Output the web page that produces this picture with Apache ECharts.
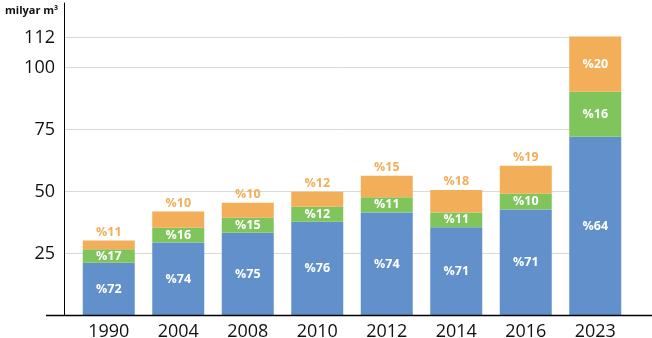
<!DOCTYPE html>
<html>
<head>
<meta charset="utf-8">
<script src="https://cdn.jsdelivr.net/npm/echarts@6/dist/echarts.min.js"></script>
<style>html,body{margin:0;padding:0;background:#fff}#c{width:652px;height:338px}</style>
</head>
<body>
<div id="c"></div>
<script>
const years = ['1990','2004','2008','2010','2012','2014','2016','2023'];
const blueValues = [21.3, 29.4, 33.4, 37.8, 41.5, 35.6, 42.7, 72.1];
const greenValues = [5.4, 6.0, 6.0, 6.0, 6.2, 5.9, 6.4, 18.1];
const orangeValues = [3.5, 6.5, 6.1, 6.1, 8.6, 9.1, 11.3, 22.3];
const bluePct = ['%72','%74','%75','%76','%74','%71','%71','%64'];
const greenPct = ['%17','%16','%15','%12','%11','%11','%10','%16'];
const orangePct = ['%11','%10','%10','%12','%15','%18','%19','%20'];
const yTicks = [25, 50, 75, 100, 112];
const unitLabel = 'milyar m³';

const FONT = '"Open Sans", sans-serif';
const BLUE = '#6190cb', GREEN = '#80c45c', ORANGE = '#f2ae58';
const innerLabel = (arr) => ({
  show: true, position: 'inside', color: '#fff', fontFamily: FONT,
  fontWeight: 'bold', fontSize: 12.5, formatter: p => arr[p.dataIndex]
});

const chart = echarts.init(document.getElementById('c'), null, {renderer: 'canvas'});
chart.setOption({
  animation: false,
  title: {
    text: unitLabel, left: 0, top: 0,
    textStyle: {fontFamily: FONT, fontWeight: 'bold', fontSize: 11, color: '#111'}
  },
  grid: [
    {left: 64, right: 31, top: 3, bottom: 22.5, containLabel: false, outerBoundsMode: 'none'},
    {left: 74, right: 22, top: 3, bottom: 22.5, containLabel: false, outerBoundsMode: 'none'}
  ],
  xAxis: [
    {gridIndex: 0, type: 'value', show: false, min: 0, max: 1},
    {gridIndex: 1, type: 'category', data: years,
     axisLine: {show: false}, axisTick: {show: false},
     axisLabel: {fontFamily: FONT, fontSize: 18, color: '#111', margin: 7}}
  ],
  yAxis: [
    {gridIndex: 0, type: 'value', min: 0, max: 126,
     axisLine: {show: true, lineStyle: {color: '#000', width: 1}},
     axisTick: {show: false, customValues: yTicks},
     axisLabel: {customValues: yTicks, fontFamily: FONT, fontSize: 18, color: '#111', margin: 9},
     splitLine: {show: true, lineStyle: {color: '#d9d9d9', width: 1}}},
    {gridIndex: 1, type: 'value', min: 0, max: 126, show: false, splitLine: {show: false}}
  ],
  graphic: [{
    type: 'line', z: 100,
    shape: {x1: 46, y1: 315.5, x2: 652, y2: 315.5},
    style: {stroke: '#000', lineWidth: 1.5}
  }],
  series: [
    {type: 'bar', stack: 's', xAxisIndex: 1, yAxisIndex: 1, barWidth: 52,
     data: blueValues, itemStyle: {color: BLUE}, label: innerLabel(bluePct)},
    {type: 'bar', stack: 's', xAxisIndex: 1, yAxisIndex: 1, barWidth: 52,
     data: greenValues, itemStyle: {color: GREEN}, label: innerLabel(greenPct)},
    {type: 'bar', stack: 's', xAxisIndex: 1, yAxisIndex: 1, barWidth: 52,
     data: orangeValues.map((v, i) => i === orangeValues.length - 1
       ? {value: v, label: {position: 'inside', color: '#fff'}}
       : {value: v}),
     itemStyle: {color: ORANGE},
     label: {show: true, position: 'top', distance: 2, color: ORANGE, fontFamily: FONT,
             fontWeight: 'bold', fontSize: 12.5, formatter: p => orangePct[p.dataIndex]}}
  ]
});
</script>
</body>
</html>
